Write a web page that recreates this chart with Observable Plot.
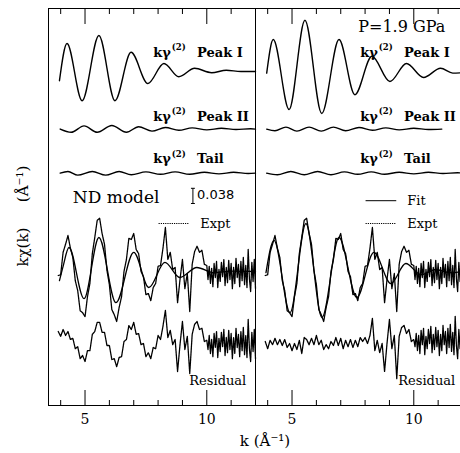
<!DOCTYPE html>
<html><head><meta charset="utf-8">
<script src="https://cdn.jsdelivr.net/npm/d3@7"></script>
<script src="https://cdn.jsdelivr.net/npm/@observablehq/plot@0.6"></script>
<style>body{margin:0;background:#fff}</style>
</head><body><div id="chart"></div>
<script>
// panels: ND model fit (left) and final fit (right), P = 1.9 GPa
const panels = ["ND", "P"];
// vertical offsets of each trace (units of 1e-3 Å^-1)
const baseline = {peakI: 835, peakII: 691, tail: 581, main: 335, resid: 155};

// k sampling of the experimental data
const kGrid = [...d3.range(39, 101).map(i => i / 10), ...d3.range(201, 241).map(i => i / 20)];
// experimental kχ(k) (units of 1e-3)
const exptLow = [-10,-8,48,68,90,58,35,-23,-48,-98,-103,-113,-63,-30,45,85,128,133,95,68,3,-33,-95,-108,-125,-90,-63,0,30,83,80,95,55,45,0,-13,-58,-55,-73,-40,-30,13,15,58,110,30,48,5,10,-78,-20,30,-43,-5,-100,18,50,63,48,53,18,15];
const exptHigh = [-20,13,-30,8,-38,20,-15,25,-40,5,-25,23,-13,30,-35,10,-28,28,-20,20,-43,10,-30,33,-15,18,-38,25,-23,35,-33,15,-40,55,-18,-50,23,-25,30,-43];
// residuals
const residNDLow = [30,18,35,20,30,10,13,-13,-8,-38,-30,-45,-18,-18,23,30,53,53,28,28,-5,-5,-40,-38,-58,-35,-33,5,10,45,35,53,23,25,-3,0,-33,-23,-38,-10,-13,20,10,43,83,15,33,-3,10,-70,-3,55,-15,18,-75,23,48,55,35,38,5,8];
const residNDHigh = [-15,20,-25,10,-33,25,-10,30,-35,13,-20,28,-8,35,-30,15,-23,33,-15,25,-38,15,-25,38,-10,23,-33,30,-18,40,-28,20,-35,60,-13,-45,28,-20,35,-38];
const residPLow = [5,-13,8,-3,13,-3,10,-5,10,-10,0,-18,0,-15,8,-25,15,10,-3,13,-3,20,-3,8,-15,-3,-13,5,-5,15,-5,13,-13,8,-8,10,-10,8,-8,15,5,15,0,20,63,-18,8,-23,0,-70,0,60,-13,20,-88,18,40,45,25,35,5,10];
const residPHigh = [-8,25,-18,20,-25,33,-3,38,-28,18,-13,35,0,43,-23,23,-15,40,-8,33,-30,23,-18,45,-3,30,-25,38,-10,48,-20,28,-28,68,-5,-38,35,-13,43,-30];

// model signals (extrema, units of 1e-3)
const peakI_ND_k = [3.95,4.26,4.88,5.57,6.23,6.89,7.58,8.24,8.85,9.5,10.2,10.8,11.4,12];
const peakI_ND_v = [-23,70,-73,90,-73,48,-30,20,-13,8,-3,3,0,0];
const peakI_P_k = [3.96,4.23,4.88,5.53,6.22,6.93,7.58,8.28,9.02,9.7,10.4,11.1,11.6,12];
const peakI_P_v = [-4,80,-95,128,-105,80,-58,38,-25,20,-15,8,-4,-3];
const peakII_ND_k = [3.98,4.43,4.96,5.5,6.1,6.7,7.2,7.75,8.3,8.85,9.4,10,10.6,11.2,11.8,12];
const peakII_ND_v = [0,-8,8,-8,9,-8,6,-5,4,-3,3,-2,2,-1,1,0];
const peakII_P_k = [3.96,4.3,4.75,5.2,5.7,6.2,6.7,7.2,7.75,8.3,8.85,9.4,10,10.6,11.15];
const peakII_P_v = [0,-4,5,-5,5,-5,5,-4,4,-3,3,-2,2,-1,0];
const tail_ND_k = [3.98,4.3,4.7,5.3,5.85,6.4,6.9,7.5,8.1,8.7,9.3,9.9,10.5,11.1,11.7,12];
const tail_ND_v = [0,4,-5,4,-5,4,-4,3,-3,3,-3,2,-2,2,-1,0];
const tail_P_k = [3.96,4.4,4.95,5.5,6.05,6.6,7.15,7.7,8.25,8.8,9.4,10,10.6,11.2,11.8,12];
const tail_P_v = [0,-4,4,-4,4,-4,3,-3,3,-3,2,-2,2,-1,1,0];
const fit_ND_k = [3.95,4.1,4.34,4.96,5.57,6.27,7.0,7.62,8.28,8.89,9.59,10.3,11,12];
const fit_ND_v = [-23,13,60,-68,85,-78,48,-40,23,-15,10,-3,1,0];
const fit_P_k = [3.93,4.26,4.92,5.57,6.23,6.93,7.66,8.36,9.06,9.67,10.3,10.9,11.5,12];
const fit_P_v = [-3,78,-103,120,-115,85,-65,48,-30,20,-8,5,-3,0];

const tickMajor = [5, 10];
const tickMinor = [4, 6, 7, 8, 9, 11];
const scaleBar = 38; // 0.038

const smooth = [
  {panel: "ND", base: baseline.peakI, k: peakI_ND_k, v: peakI_ND_v, w: 1.4},
  {panel: "P", base: baseline.peakI, k: peakI_P_k, v: peakI_P_v, w: 1.4},
  {panel: "ND", base: baseline.peakII, k: peakII_ND_k, v: peakII_ND_v, w: 1.4},
  {panel: "P", base: baseline.peakII, k: peakII_P_k, v: peakII_P_v, w: 1.4},
  {panel: "ND", base: baseline.tail, k: tail_ND_k, v: tail_ND_v, w: 1.4},
  {panel: "P", base: baseline.tail, k: tail_P_k, v: tail_P_v, w: 1.4},
  {panel: "ND", base: baseline.main, k: fit_ND_k, v: fit_ND_v, w: 1.3},
  {panel: "P", base: baseline.main, k: fit_P_k, v: fit_P_v, w: 1.3}
];
const smoothRows = smooth.flatMap((c, id) => c.k.map((k, i) => ({id, panel: c.panel, k, y: c.base + c.v[i], w: c.w})));

const expt = [...exptLow, ...exptHigh];
const resid = {ND: [...residNDLow, ...residNDHigh], P: [...residPLow, ...residPHigh]};
const dataRows = panels.flatMap(p => [
  ...kGrid.map((k, i) => ({id: p + "e", panel: p, k, y: baseline.main + expt[i]})),
  ...kGrid.map((k, i) => ({id: p + "r", panel: p, k, y: baseline.resid + resid[p][i]}))
]);

const serif = "DejaVu Serif";
const peakLabels = panels.flatMap(p => [["Peak I", 882], ["Peak II", 722], ["Tail", 616]].map(([t, y]) => ({panel: p, t, y})));

const chart = Plot.plot({
  width: 460, height: 453,
  marginLeft: 47, marginRight: -2, marginTop: 8, marginBottom: 48,
  fx: {domain: panels, padding: 0, axis: null, label: null},
  x: {domain: [3.5, 12], label: null},
  y: {domain: [0, 992.5], axis: null, label: null},
  style: {fontFamily: serif, background: "white", color: "black"},
  marks: [
    Plot.frame({stroke: "black", strokeWidth: 1}),
    Plot.axisX({anchor: "bottom", ticks: tickMajor, tickSize: -15, tickFormat: () => "", label: null}),
    Plot.axisX({anchor: "bottom", ticks: tickMinor, tickSize: -5, tickFormat: () => "", label: null}),
    Plot.axisX({anchor: "top", ticks: tickMajor, tickSize: -15, tickFormat: () => "", label: null}),
    Plot.axisX({anchor: "top", ticks: tickMinor, tickSize: -5, tickFormat: () => "", label: null}),
    Plot.axisX({anchor: "bottom", ticks: tickMajor, tickSize: 0, tickPadding: 9, fontSize: 14, fontFamily: serif, label: null}),
    Plot.line(smoothRows, {x: "k", y: "y", z: "id", fx: "panel", curve: "monotone-x", stroke: "black", strokeWidth: "w"}),
    Plot.line(dataRows, {x: "k", y: "y", z: "id", fx: "panel", stroke: "black", strokeWidth: 1.3, strokeDasharray: "2.2,0.5"}),
    // curve labels
    Plot.text(peakLabels, {x: () => 7.8, y: "y", fx: "panel", text: () => "kγ", textAnchor: "start", fontSize: 13, fontWeight: "bold"}),
    Plot.text(peakLabels, {x: () => 8.56, y: "y", fx: "panel", text: () => "(2)", dy: -5, textAnchor: "start", fontSize: 8.5, fontWeight: "bold"}),
    Plot.text(peakLabels, {x: () => 9.6, y: "y", fx: "panel", text: "t", textAnchor: "start", fontSize: 13, fontWeight: "bold"}),
    Plot.text([{panel: "P", t: "P=1.9 GPa"}], {x: () => 7.72, y: () => 947, fx: "panel", text: "t", textAnchor: "start", fontSize: 16}),
    Plot.text([{panel: "ND", t: "ND model"}], {x: () => 4.5, y: () => 520, fx: "panel", text: "t", textAnchor: "start", fontSize: 17}),
    // scale bar 0.038
    Plot.link([{panel: "ND"}], {x1: () => 9.43, x2: () => 9.43, y1: () => 505, y2: () => 505 + scaleBar, fx: "panel", stroke: "black"}),
    Plot.link([{panel: "ND", y: 505}, {panel: "ND", y: 505 + scaleBar}], {x1: () => 9.35, x2: () => 9.51, y1: "y", y2: "y", fx: "panel", stroke: "black"}),
    Plot.text([{panel: "ND", t: "0.038"}], {x: () => 9.6, y: () => 527, fx: "panel", text: "t", textAnchor: "start", fontSize: 13, fontFamily: "DejaVu Sans"}),
    // legends
    Plot.link([{panel: "ND", y: 455}, {panel: "P", y: 455}], {x1: () => 8.02, x2: () => 9.28, y1: "y", y2: "y", fx: "panel", stroke: "black", strokeDasharray: "1.2,1"}),
    Plot.text([{panel: "ND"}, {panel: "P"}], {x: () => 9.73, y: () => 455, fx: "panel", text: () => "Expt", textAnchor: "start", fontSize: 13}),
    Plot.link([{panel: "P"}], {x1: () => 8.02, x2: () => 9.28, y1: () => 512, y2: () => 512, fx: "panel", stroke: "black"}),
    Plot.text([{panel: "P"}], {x: () => 9.73, y: () => 512, fx: "panel", text: () => "Fit", textAnchor: "start", fontSize: 13}),
    Plot.text([{panel: "ND", x: 11.62}, {panel: "P", x: 11.7}], {x: "x", y: () => 62, fx: "panel", text: () => "Residual", textAnchor: "end", fontSize: 13}),
    // axis titles
    Plot.text([{panel: "ND", t: "kχ(k)", y: 396}, {panel: "ND", t: "(Å⁻¹)", y: 554}], {x: () => 2.47, y: "y", fx: "panel", text: "t", rotate: -90, fontSize: 15}),
    Plot.text([{panel: "P", t: "k (Å⁻¹)"}], {x: () => 3.89, y: () => -88, fx: "panel", text: "t", fontSize: 15})
  ]
});
document.getElementById("chart").appendChild(chart);
</script>
</body></html>
